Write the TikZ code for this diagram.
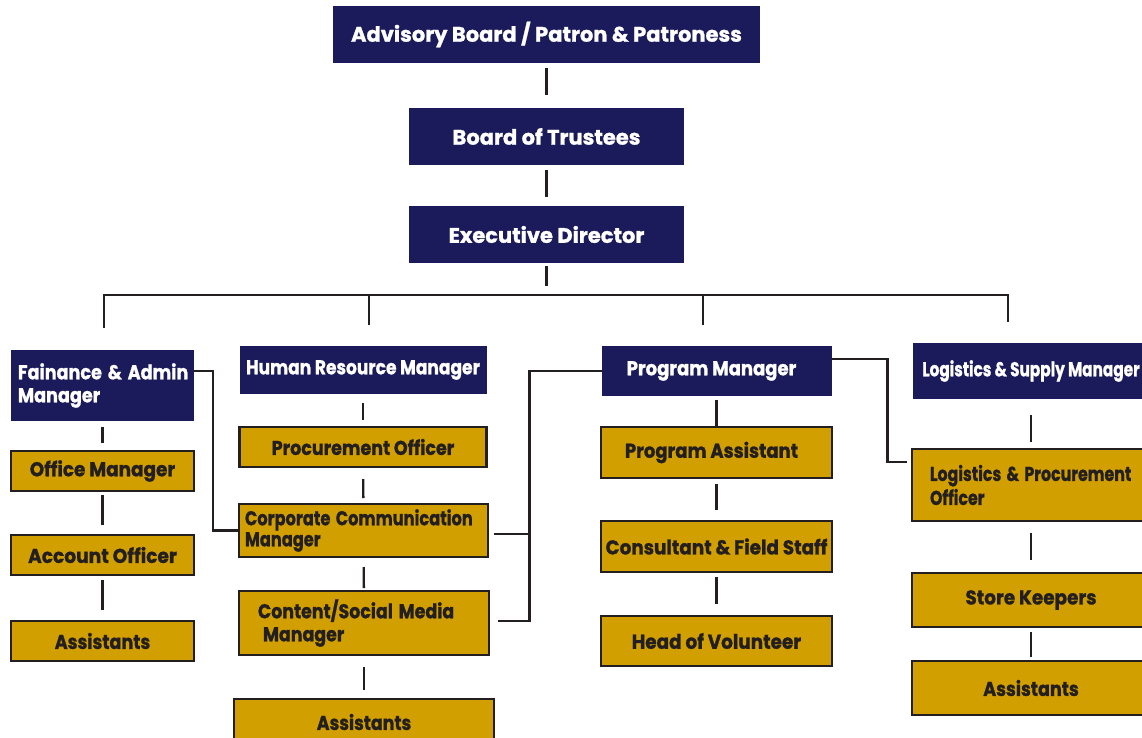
\documentclass[tikz,border=0pt]{standalone}
\usepackage{fontspec}
\setmainfont{Poppins}[BoldFeatures={FakeBold=1.2}]
\usetikzlibrary{calc}
\definecolor{navyc}{HTML}{1B1B5B}
\definecolor{goldc}{HTML}{D29F00}
\definecolor{inkc}{HTML}{231F20}
\newcommand\sx[2]{\scalebox{#1}[1]{#2}}
\tikzset{
  navybox/.style={fill=navyc, text=white, font=\bfseries\fontsize{20}{23}\selectfont, inner sep=0pt, outer sep=0pt},
  goldbox/.style={fill=goldc, draw=inkc, line width=2.4pt, text=inkc, font=\bfseries\fontsize{20}{23}\selectfont, inner sep=0pt, outer sep=0pt},
  conn/.style={draw=inkc, line width=2.4pt},
}
\begin{document}
\begin{tikzpicture}[x=1pt,y=-1pt]
\useasboundingbox (0,0) rectangle (1142,738);
\fill[white] (0,0) rectangle (1142,738);
% top chain
\node[navybox, minimum width=427pt, minimum height=57pt, font=\bfseries\fontsize{21}{24}\selectfont] (adv) at (546.5,34.5) {Advisory Board / Patron \& Patroness};
\node[navybox, minimum width=275pt, minimum height=57pt, font=\bfseries\fontsize{21}{24}\selectfont] (bot) at (546.5,136.5) {Board of Trustees};
\node[navybox, minimum width=275pt, minimum height=57pt, font=\bfseries\fontsize{21}{24}\selectfont] (ed) at (546.5,234.5) {Executive Director};
% managers
\node[navybox, minimum width=183pt, minimum height=71pt, text width=169pt, align=left] (fin) at (102.5,385.5) {\sx{0.88}{Fainance \& Admin}\\\sx{0.88}{Manager}};
\node[navybox, minimum width=247pt, minimum height=48pt] (hr) at (363,370) {\sx{0.853}{Human Resource Manager}};
\node[navybox, minimum width=230pt, minimum height=50pt] (pm) at (716.5,371) {\sx{0.9}{Program Manager}\hspace*{10pt}};
\node[navybox, minimum width=236pt, minimum height=56pt] (lsm) at (1031,371) {\sx{0.766}{Logistics \& Supply Manager}};
% column 1
\node[goldbox, minimum width=183pt, minimum height=40pt] (om) at (102.5,471) {\sx{0.92}{Office Manager}};
\node[goldbox, minimum width=183pt, minimum height=40pt] (ao) at (102.5,555) {\sx{0.93}{Account Officer}};
\node[goldbox, minimum width=183pt, minimum height=40pt] (as1) at (102.5,641) {\sx{0.88}{Assistants}};
% column 2
\node[goldbox, minimum width=247pt, minimum height=40pt] (po) at (363,447) {\sx{0.875}{Procurement Officer}};
\node[goldbox, minimum width=249pt, minimum height=53pt, text width=237pt, align=left, font=\bfseries\fontsize{20}{21}\selectfont] (ccm) at (363.5,530.5) {\sx{0.81}{Corporate Communication}\\\sx{0.81}{Manager}};
\node[goldbox, minimum width=250pt, minimum height=64pt, text width=212pt, align=left] (csm) at (364,623) {\sx{0.87}{Content/Social Media}\\\hspace*{5pt}\sx{0.87}{Manager}};
\node[goldbox, minimum width=260pt, minimum height=46pt] (as2) at (364,722) {\sx{0.87}{Assistants}};
% column 3
\node[goldbox, minimum width=231pt, minimum height=51pt] (pa) at (716.5,452.5) {\sx{0.9}{Program Assistant}\hspace*{10pt}};
\node[goldbox, minimum width=231pt, minimum height=51pt] (cfs) at (716.5,546.5) {\sx{0.92}{Consultant \& Field Staff}};
\node[goldbox, minimum width=231pt, minimum height=50pt] (hv) at (716.5,641) {\sx{0.92}{Head of Volunteer}};
% column 4
\node[goldbox, minimum width=238pt, minimum height=72pt, text width=202pt, align=left, font=\bfseries\fontsize{20}{24}\selectfont] (lpo) at (1031,485) {\sx{0.79}{Logistics \& Procurement}\\\sx{0.79}{Officer}};
\node[goldbox, minimum width=238pt, minimum height=54pt] (sk) at (1031,600) {\sx{0.92}{Store Keepers}};
\node[goldbox, minimum width=238pt, minimum height=54pt] (as4) at (1031,688) {\sx{0.88}{Assistants}};
% top connectors
\draw[conn, shorten <=5pt, shorten >=13pt] (adv) -- (bot);
\draw[conn, shorten <=5pt, shorten >=9pt] (bot) -- (ed);
\coordinate (bj) at (546,295);
\draw[conn] ([yshift=-3pt]ed.south) -- ++(0,20);
\draw[conn] ([xshift=1.5pt,yshift=22pt]fin.north) |- (bj) -| ([xshift=-23pt,yshift=21pt]lsm.north);
\draw[conn] ([xshift=6pt,yshift=21pt]hr.north) -- ([xshift=6pt]hr.north |- bj);
\draw[conn] ([xshift=-13.5pt,yshift=21pt]pm.north) -- ([xshift=-13.5pt]pm.north |- bj);
% column 1
\draw[conn, shorten <=6pt, shorten >=8pt] (fin) -- (om);
\draw[conn, shorten <=4pt, shorten >=10pt] (om) -- (ao);
\draw[conn, shorten <=5pt, shorten >=11pt] (ao) -- (as1);
% column 2
\draw[conn, shorten <=9pt, shorten >=7pt] (hr) -- (po);
\draw[conn, shorten <=12pt, shorten >=6pt] (po) -- (ccm);
\draw[conn, shorten <=10pt, shorten >=3pt] (ccm) -- (csm);
\draw[conn, shorten <=12pt, shorten >=9pt] (csm) -- (as2);
% column 3
\draw[conn, shorten <=4pt] (pm) -- (pa);
\draw[conn, shorten <=6pt, shorten >=11pt] (pa) -- (cfs);
\draw[conn, shorten <=5pt, shorten >=12pt] (cfs) -- (hv);
% column 4
\draw[conn, shorten <=16pt, shorten >=7pt] (lsm) -- (lpo);
\draw[conn, shorten <=12pt, shorten >=13pt] (lpo) -- (sk);
\draw[conn, shorten <=5pt, shorten >=4pt] (sk) -- (as4);
% elbows
\draw[conn] ([yshift=14.5pt]fin.east) -- ++(19,0) |- (ccm.west);
\coordinate (trunk) at ([xshift=-72pt]pm.west);
\draw[conn] (pm.west) -- (trunk) |- ([xshift=9pt,yshift=2pt]csm.east);
\draw[conn] ([xshift=6pt,yshift=-3.5pt]ccm.east) -- ([yshift=-3.5pt]ccm.east -| trunk);
\draw[conn] ([yshift=12pt]pm.east) -- ++(56,0) |- ([xshift=-5pt,yshift=23pt]lpo.west);
\end{tikzpicture}
\end{document}
